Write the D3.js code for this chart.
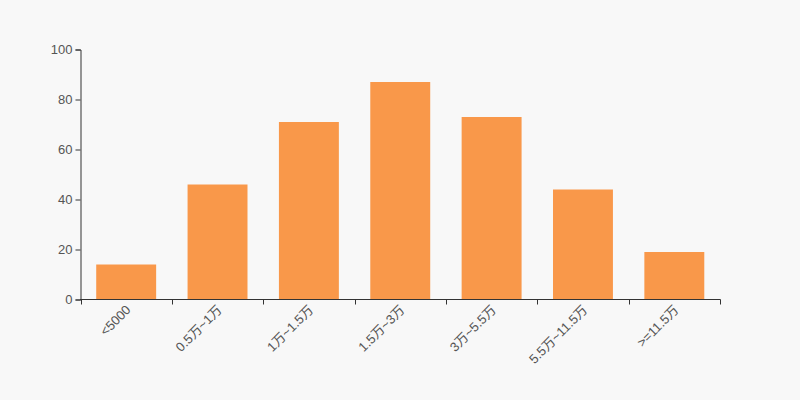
<!DOCTYPE html>
<html><head><meta charset="utf-8">
<script src="https://cdn.jsdelivr.net/npm/d3@7/dist/d3.min.js"></script>
<style>
html,body{margin:0;padding:0;background:#f8f8f8;}
svg{display:block;}
text{font-family:"Liberation Sans",Arial,"Noto Sans CJK SC",sans-serif;}
</style></head><body>
<svg id="c" width="800" height="400"></svg>
<script>
const categories = ["<5000","0.5万~1万","1万~1.5万","1.5万~3万","3万~5.5万","5.5万~11.5万",">=11.5万"];
const values = [14,46,71,87,73,44,19];
const yTicks = [0,20,40,60,80,100];

const svg = d3.select("#c");
const W=800,H=400, m={l:80.5,r:80,t:49.5,b:100.5};
svg.append("rect").attr("width",W).attr("height",H).attr("fill","#f8f8f8");

const x = d3.scaleBand().domain(categories).range([m.l, W-m.r]).paddingInner(0.344).paddingOuter(0.172);
const y = d3.scaleLinear().domain([0,100]).range([H-m.b, m.t]);

svg.append("g").selectAll("rect").data(values).join("rect")
  .attr("x",(d,i)=>x(categories[i]))
  .attr("y",d=>y(d))
  .attr("width",x.bandwidth())
  .attr("height",d=>y(0)-y(d))
  .attr("fill","#f9984a");

const ya = svg.append("g").attr("transform",`translate(${m.l},0)`)
  .call(d3.axisLeft(y).tickValues(yTicks).tickSize(5).tickPadding(3));
ya.select(".domain").attr("stroke","#333");
ya.selectAll(".tick line").attr("stroke","#333");
ya.selectAll("text").attr("fill","#555").style("font-size","13px");

const step = x.step();
const xa = svg.append("g").attr("transform",`translate(0,${y(0)})`);
xa.append("line").attr("x1",m.l-0.5).attr("x2",W-m.r+0.5).attr("stroke","#333");
const bounds = d3.range(categories.length+1).map(i=>m.l + i*step);
xa.selectAll(".tk").data(bounds).join("line").attr("class","tk")
  .attr("x1",d=>Math.round(d)+0.5).attr("x2",d=>Math.round(d)+0.5).attr("y1",0).attr("y2",5).attr("stroke","#333");
xa.selectAll(".lbl").data(categories).join("text").attr("class","lbl")
  .attr("transform",d=>`translate(${x(d)+x.bandwidth()/2+2},${8}) rotate(-45)`)
  .attr("text-anchor","end").attr("dy","0.35em")
  .attr("fill","#555").style("font-size","13px")
  .text(d=>d);
</script>
</body></html>
